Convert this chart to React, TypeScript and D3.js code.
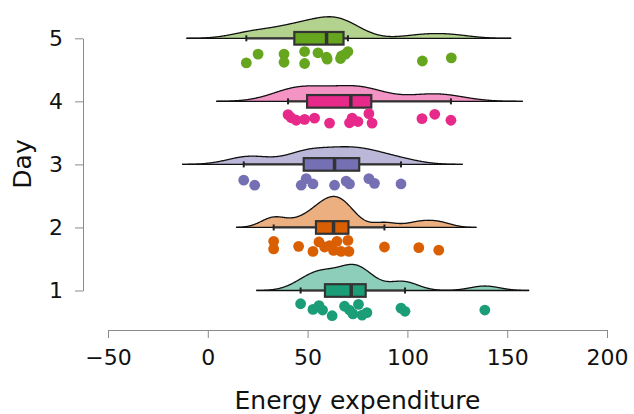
import { useEffect, useRef } from 'react';
import * as d3 from 'd3';

const days = [1, 2, 3, 4, 5];
const colors = ['#1B9E77', '#D95F02', '#7570B3', '#E7298A', '#66A61E'];

// energy expenditure per day
const day1 = [46.5, 52.7, 55.7, 57.5, 62.3, 68.5, 71, 72.7, 75.5, 77.3, 79.7, 96.8, 98.8, 138.8];
const day2 = [33, 33, 45.5, 52.7, 55.7, 58.5, 61, 63, 64.7, 66.8, 70.2, 70.7, 88.5, 105.7, 115.7];
const day3 = [18, 23.5, 46.8, 49.3, 52.7, 63.5, 69.3, 71, 80.7, 83.5, 96.8];
const day4 = [40.2, 41.8, 44.3, 48.5, 53.5, 61, 71, 72.3, 75.2, 80.7, 82.3, 107.3, 113.7, 121.8];
const day5 = [19.3, 25.2, 38.2, 38.2, 48.5, 48.5, 55.2, 59.5, 59.8, 66.5, 67, 69, 70.2, 107.5, 122];

// vertical jitter of the rain points (in Day units, below each cloud)
const jit1 = [0.21, 0.3, 0.24, 0.31, 0.4, 0.25, 0.31, 0.37, 0.22, 0.39, 0.35, 0.28, 0.33, 0.31];
const jit2 = [0.22, 0.34, 0.3, 0.38, 0.23, 0.31, 0.29, 0.365, 0.22, 0.38, 0.205, 0.38, 0.31, 0.32, 0.36];
const jit3 = [0.25, 0.33, 0.33, 0.225, 0.31, 0.33, 0.265, 0.31, 0.225, 0.3, 0.31];
const jit4 = [0.21, 0.26, 0.3, 0.285, 0.265, 0.345, 0.34, 0.265, 0.32, 0.195, 0.345, 0.275, 0.205, 0.3];
const jit5 = [0.39, 0.25, 0.25, 0.38, 0.21, 0.4, 0.23, 0.3, 0.33, 0.32, 0.28, 0.25, 0.21, 0.36, 0.31];

// kernel bandwidth of each cloud
const bandwidths = [7.4, 6.3, 10.3, 12, 10];

const values = [day1, day2, day3, day4, day5];
const jitters = [jit1, jit2, jit3, jit4, jit5];

const xTicks = [-50, 0, 50, 100, 150, 200];

const W = 634;
const H = 414;
const font = '"DejaVu Sans", sans-serif';

function kde(v: number[], bw: number) {
  const lo = d3.min(v)! - 3 * bw;
  const hi = d3.max(v)! + 3 * bw;
  const n = 512;
  const pts: [number, number][] = [];
  for (let i = 0; i < n; i++) {
    const t = lo + ((hi - lo) * i) / (n - 1);
    const d = d3.mean(v, (x) => Math.exp(-0.5 * ((t - x) / bw) ** 2) / (bw * Math.sqrt(2 * Math.PI)))!;
    pts.push([t, d]);
  }
  return pts;
}

function boxStats(v: number[]) {
  const s = [...v].sort(d3.ascending);
  const q1 = d3.quantile(s, 0.25)!;
  const med = d3.quantile(s, 0.5)!;
  const q3 = d3.quantile(s, 0.75)!;
  const iqr = q3 - q1;
  const lo = d3.min(s.filter((d) => d >= q1 - 1.5 * iqr))!;
  const hi = d3.max(s.filter((d) => d <= q3 + 1.5 * iqr))!;
  return { q1, med, q3, lo, hi };
}

export default function App() {
  const gx = useRef<SVGGElement>(null);
  const gy = useRef<SVGGElement>(null);

  const x = d3.scaleLinear().domain([-50, 200]).range([108, 607]);
  const y = d3.scaleLinear().domain([1, 5]).range([290.5, 38.3]);

  const dens = values.map((v, i) => kde(v, bandwidths[i]));
  const maxD = d3.max(dens.flat(), (d) => d[1])!;
  const h = d3.scaleLinear().domain([0, maxD]).range([0, 31]);

  useEffect(() => {
    const ax = d3.select(gx.current!);
    ax.call(d3.axisBottom(x).tickValues(xTicks).tickSize(8).tickSizeOuter(0).tickPadding(11).tickFormat(d3.format('')));
    const ay = d3.select(gy.current!);
    ay.call(d3.axisLeft(y).tickValues(days).tickSize(8).tickSizeOuter(0).tickPadding(12).tickFormat(d3.format('d')));
    [ax, ay].forEach((a) => {
      a.select('.domain').attr('stroke', '#8a8a8a');
      a.selectAll('.tick line').attr('stroke', '#8a8a8a');
      a.selectAll('.tick text').attr('fill', '#111').style('font-size', '22px').style('font-family', font);
    });
  }, []);

  const bh = 6.3;

  return (
    <svg width={W} height={H} style={{ position: 'absolute', left: 0, top: 0, background: '#fff' }}>
      {days.map((day, i) => {
        const base = y(day);
        const area = d3
          .area<[number, number]>()
          .x((d) => x(d[0]))
          .y0(base)
          .y1((d) => base - h(d[1]));
        const b = boxStats(values[i]);
        return (
          <g key={day}>
            <path d={area(dens[i])!} fill={colors[i]} fillOpacity={0.5} stroke="none" />
            <path
              d={d3.line<[number, number]>().x((d) => x(d[0])).y((d) => base - h(d[1]))(dens[i])!}
              fill="none"
              stroke="#111"
              strokeWidth={1.3}
            />
            <line x1={x(dens[i][0][0])} x2={x(dens[i][dens[i].length - 1][0])} y1={base} y2={base} stroke="#111" strokeWidth={1.3} />
            <line x1={x(b.lo)} x2={x(b.hi)} y1={base} y2={base} stroke="#333" strokeWidth={2.2} />
            <line x1={x(b.lo)} x2={x(b.lo)} y1={base - 3} y2={base + 3} stroke="#222" strokeWidth={2} />
            <line x1={x(b.hi)} x2={x(b.hi)} y1={base - 3} y2={base + 3} stroke="#222" strokeWidth={2} />
            <rect x={x(b.q1)} y={base - bh} width={x(b.q3) - x(b.q1)} height={2 * bh} fill={colors[i]} stroke="#333" strokeWidth={2.2} />
            <line x1={x(b.med)} x2={x(b.med)} y1={base - bh} y2={base + bh} stroke="#333" strokeWidth={3.5} />
            {values[i].map((v, j) => (
              <circle key={j} cx={x(v)} cy={y(day - jitters[i][j])} r={5.4} fill={colors[i]} />
            ))}
          </g>
        );
      })}
      <g ref={gx} transform={`translate(0,${y(1) + 39.5})`} />
      <g ref={gy} transform="translate(83,0)" />
      <text x={357.5} y={409} textAnchor="middle" fontFamily={font} fontSize={25} fill="#111">
        Energy expenditure
      </text>
      <text transform="translate(31,164) rotate(-90)" textAnchor="middle" fontFamily={font} fontSize={25} fill="#111">
        Day
      </text>
    </svg>
  );
}
